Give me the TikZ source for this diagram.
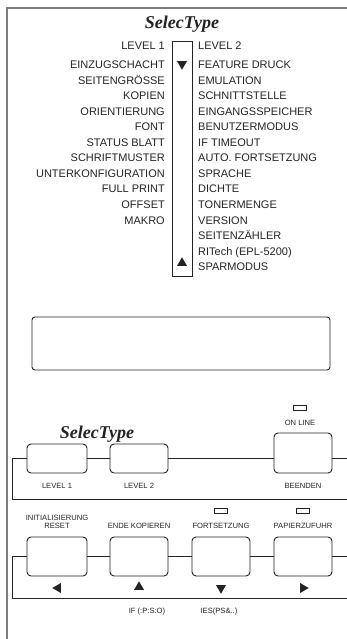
\documentclass[tikz,border=0pt]{standalone}
\usepackage{fontspec}
\setmainfont{Liberation Sans}
\newfontfamily\brandfont{Liberation Serif}
\usetikzlibrary{arrows.meta,calc,positioning,shapes.geometric}
\definecolor{PanelGray}{RGB}{125,125,125}
\definecolor{InkBlack}{RGB}{35,35,35}

\begin{document}
\begin{tikzpicture}[x=1pt,y=-1pt,>=Latex,
    menu/.style={font=\fontsize{11}{13}\selectfont,text=InkBlack,inner sep=0pt},
    brand/.style={font=\brandfont\bfseries\itshape\fontsize{18}{20}\selectfont,text=InkBlack,inner sep=0pt},
    key/.style={draw=InkBlack,line width=0.9pt,rounded corners=4pt,minimum width=60pt,minimum height=29pt,inner sep=0pt},
    keylabel/.style={font=\fontsize{7.6}{8.4}\selectfont,text=InkBlack,inner sep=0pt,align=center},
    led/.style={draw=InkBlack,line width=0.8pt,minimum width=13pt,minimum height=5pt,inner sep=0pt},
    arrowmark/.style={regular polygon,regular polygon sides=3,fill=InkBlack,inner sep=0pt,minimum size=11.5pt}]
      \useasboundingbox (0,0) rectangle (347,639);
      \coordinate (ptr) at (347,8);
      \coordinate (ptl) at (7,8);
      \coordinate (pbl) at (7,639);
      \draw[PanelGray,line width=1.6pt] (ptr) -- (ptl) -- (pbl);

      \node[brand] (title) at (182,24) {SelecType};
      \node[draw=InkBlack,line width=0.9pt,minimum width=20pt,minimum height=235pt,inner sep=0pt] (scroll) at (182,158.5) {};
      \node[arrowmark,shape border rotate=180] (down) at (182,64) {};
      \node[arrowmark] (up) at (182,263) {};

      \node[menu,anchor=base east] (lvA) at (165,50) {LEVEL 1};
      \node[menu,anchor=base west] (lvB) at (198,50) {LEVEL 2};
      \foreach \t [count=\i] in {EINZUGSCHACHT,SEITENGRÖSSE,KOPIEN,ORIENTIERUNG,FONT,{STATUS BLATT},SCHRIFTMUSTER,UNTERKONFIGURATION,{FULL PRINT},OFFSET,MAKRO}
        \node[menu,anchor=base east] (l\i) at (165,{53.5+15.5*\i}) {\t};
      \foreach \t [count=\i] in {{FEATURE DRUCK},EMULATION,SCHNITTSTELLE,EINGANGSSPEICHER,BENUTZERMODUS,{IF TIMEOUT},{AUTO. FORTSETZUNG},SPRACHE,DICHTE,TONERMENGE,VERSION,SEITENZÄHLER,{RITech (EPL-5200)},SPARMODUS}
        \node[menu,anchor=base west] (r\i) at (198,{53.5+15.5*\i}) {\t};

      \node[draw=InkBlack,line width=0.9pt,rounded corners=3pt,minimum width=298pt,minimum height=53pt] (display) at (181,343.5) {};

      \node[led] (ledon) at (300,407.5) {};
      \node[keylabel] (online) at (300,423) {ON LINE};
      \node[brand] (brand) at (97,434) {SelecType};
      \node[key] (lv1) at (57,458.5) {};
      \node[key,minimum width=58pt] (lv2) at (139,458.5) {};
      \node[key,minimum width=58pt,minimum height=40pt] (quit) at (303,453) {};
      \node[keylabel] (lv1t) at (57,485.5) {LEVEL 1};
      \node[keylabel] (lv2t) at (139,485.5) {LEVEL 2};
      \node[keylabel] (quitt) at (303,486) {BEENDEN};
      \coordinate (ua) at (12,458.5);
      \coordinate (ub) at (12,499);
      \coordinate (uc) at (347,499);
      \coordinate (ud) at (347,458.5);
      \draw[InkBlack,line width=0.9pt] (uc) -- (ub) -- (ua) -- (lv1.west);
      \draw[InkBlack,line width=0.9pt] (lv1.east) -- (lv2.west);
      \draw[InkBlack,line width=0.9pt] (lv2.east) -- (lv2.east -| quit.west);
      \draw[InkBlack,line width=0.9pt] (quit.east |- ud) -- (ud);

      \node[led] (ledcont) at (221,510.5) {};
      \node[led] (ledfeed) at (303,510.5) {};
      \node[keylabel] (resett) at (57,522) {INITIALISIERUNG\\RESET};
      \node[keylabel] (endt) at (139,526) {ENDE KOPIEREN};
      \node[keylabel] (contt) at (221,526) {FORTSETZUNG};
      \node[keylabel] (feedt) at (303,526) {PAPIERZUFUHR};
      \node[key,minimum height=39pt] (reset) at (57,556.5) {};
      \node[key,minimum width=58pt,minimum height=39pt] (endk) at (139,556.5) {};
      \node[key,minimum width=58pt,minimum height=39pt] (cont) at (221,556.5) {};
      \node[key,minimum width=58pt,minimum height=39pt] (feed) at (303,556.5) {};
      \coordinate (la) at (12,556.5);
      \coordinate (lb) at (12,598);
      \coordinate (lc) at (347,598);
      \coordinate (ld) at (347,556.5);
      \draw[InkBlack,line width=0.9pt] (lc) -- (lb) -- (la) -- (reset.west);
      \draw[InkBlack,line width=0.9pt] (reset.east) -- (endk.west);
      \draw[InkBlack,line width=0.9pt] (endk.east) -- (cont.west);
      \draw[InkBlack,line width=0.9pt] (cont.east) -- (feed.west);
      \draw[InkBlack,line width=0.9pt] (feed.east) -- (ld);
      \node[arrowmark,shape border rotate=90] (left) at (58,588) {};
      \node[arrowmark] (upk) at (139,587) {};
      \node[arrowmark,shape border rotate=180] (downk) at (221,588) {};
      \node[arrowmark,shape border rotate=270] (right) at (303,588) {};
      \node[keylabel] (ifp) at (147,612) {IF (:P:S:O)};
      \node[keylabel] (ies) at (219,612) {IES(PS\&..)};
    \end{tikzpicture}
\end{document}
